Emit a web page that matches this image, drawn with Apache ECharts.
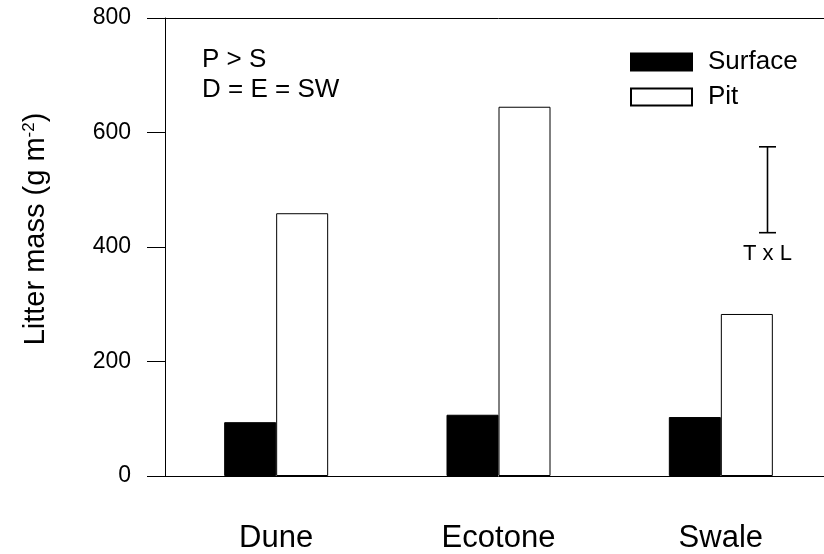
<!DOCTYPE html>
<html>
<head>
<meta charset="utf-8">
<script src="https://cdn.jsdelivr.net/npm/echarts@6/dist/echarts.min.js"></script>
<style>
html,body{margin:0;padding:0;background:#fff;overflow:hidden;width:824px;height:554px;}
#chart{width:834px;height:554px;}
</style>
</head>
<body>
<div id="chart"></div>
<script>
var categories = ['Dune', 'Ecotone', 'Swale'];
var surfaceValues = [94, 107, 103];
var pitValues = [459, 645, 283];
var yTicks = [0, 200, 400, 600, 800];
// T x L error bar: position on a 0..3 category span, low and high ends
var errorBar = [[2.706, 425, 575]];
var errorLabel = 'T x L';
var notes = ['P > S', 'D = E = SW'];

var FONT = '"Liberation Sans", Arial, sans-serif';
var chart = echarts.init(document.getElementById('chart'), null, {renderer: 'canvas'});

var option = {
  backgroundColor: '#ffffff',
  animation: false,
  grid: {left: 165, top: 18, width: 667, height: 458, containLabel: false},
  legend: {
    orient: 'vertical',
    left: 630,
    top: 49,
    padding: 0,
    itemWidth: 61,
    itemHeight: 17,
    itemGap: 9,
    icon: 'rect',
    selectedMode: false,
    textStyle: {fontFamily: FONT, fontSize: 26, color: '#000', padding: [0, 0, 0, 11]},
    data: ['Surface', 'Pit']
  },
  xAxis: [
    {
      type: 'category',
      data: categories,
      position: 'bottom',
      axisLine: {show: true, lineStyle: {color: '#000', width: 1}},
      axisTick: {show: false},
      axisLabel: {fontFamily: FONT, fontSize: 31, color: '#000', margin: 47},
      splitLine: {show: false}
    },
    {
      type: 'value',
      min: 0,
      max: 3,
      position: 'top',
      axisLine: {show: true, onZero: false, lineStyle: {color: '#000', width: 1}},
      axisTick: {show: false},
      axisLabel: {show: false},
      splitLine: {show: false}
    }
  ],
  yAxis: {
    type: 'value',
    min: yTicks[0],
    max: yTicks[yTicks.length - 1],
    interval: yTicks[1] - yTicks[0],
    axisLine: {show: true, lineStyle: {color: '#000', width: 1}},
    axisTick: {show: true, inside: false, length: 18, lineStyle: {color: '#000', width: 1}},
    axisLabel: {fontFamily: FONT, fontSize: 23, color: '#000', margin: 34,
      formatter: function (v) { return yTicks.indexOf(v) >= 0 ? String(v) : ''; }},
    splitLine: {show: false}
  },
  series: [
    {
      name: 'Surface',
      type: 'bar',
      xAxisIndex: 0,
      data: surfaceValues,
      barWidth: 52,
      barGap: '0%',
      itemStyle: {color: '#000', borderColor: '#000', borderWidth: 1},
      emphasis: {disabled: true}
    },
    {
      name: 'Pit',
      type: 'bar',
      xAxisIndex: 0,
      data: pitValues,
      barWidth: 52,
      barGap: '0%',
      itemStyle: {color: '#fff', borderColor: '#000', borderWidth: 1},
      emphasis: {disabled: true}
    },
    {
      name: 'error',
      type: 'custom',
      xAxisIndex: 1,
      data: errorBar,
      silent: true,
      renderItem: function (params, api) {
        var top = api.coord([api.value(0), api.value(2)]);
        var bot = api.coord([api.value(0), api.value(1)]);
        var x = Math.round(top[0]) + 0.5;
        var hw = 8.5;
        var st = {stroke: '#000', lineWidth: 1.6};
        return {
          type: 'group',
          children: [
            {type: 'line', shape: {x1: x, y1: top[1], x2: x, y2: bot[1]}, style: st},
            {type: 'line', shape: {x1: x - hw, y1: top[1], x2: x + hw, y2: top[1]}, style: st},
            {type: 'line', shape: {x1: x - hw, y1: bot[1], x2: x + hw, y2: bot[1]}, style: st},
            {type: 'text', x: x, y: bot[1] + 10, style: {text: errorLabel, fontFamily: FONT, fontSize: 22,
              fill: '#000', align: 'center', verticalAlign: 'top'}}
          ]
        };
      }
    }
  ],
  graphic: [
    {type: 'text', left: 202, top: 47, style: {text: notes[0], fontFamily: FONT, fontSize: 26, fill: '#000'}},
    {type: 'text', left: 202, top: 77, style: {text: notes[1], fontFamily: FONT, fontSize: 26, fill: '#000'}},
    {
      type: 'text',
      x: 36,
      y: 229,
      rotation: Math.PI / 2,
      style: {
        text: '{a|Litter mass (g m}{s|-2}{a|)}',
        align: 'center',
        verticalAlign: 'middle',
        rich: {
          a: {fontFamily: FONT, fontSize: 29, fill: '#000', color: '#000', lineHeight: 30},
          s: {fontFamily: FONT, fontSize: 17, fill: '#000', color: '#000', verticalAlign: 'top', lineHeight: 17}
        }
      }
    }
  ]
};
chart.setOption(option);
</script>
</body>
</html>
